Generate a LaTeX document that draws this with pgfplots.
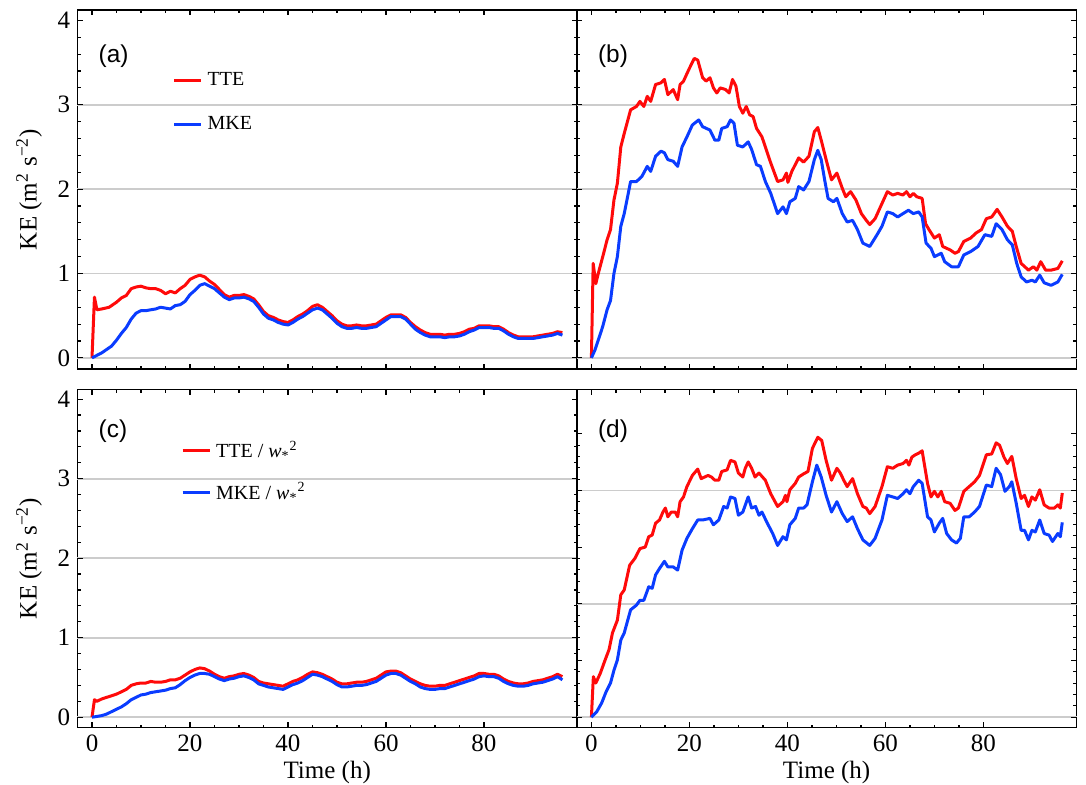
\documentclass[border=0pt]{standalone}
\usepackage{pgfplots}
\pgfplotsset{compat=1.18}
\usepackage{fontspec}
\setmainfont{Liberation Serif}
\newfontfamily\sansf{Liberation Sans}
\definecolor{ttered}{RGB}{255,10,10}
\definecolor{mkeblue}{RGB}{10,60,255}

\pgfplotstableread{
t v
0 0
0.5 0.72
1.0 0.57
2 0.58
3.5 0.60
5 0.66
6 0.71
7 0.74
8 0.82
9 0.84
10 0.85
11 0.83
12 0.82
13 0.82
14 0.80
15 0.76
16 0.79
17 0.77
18 0.82
19 0.86
20 0.93
21 0.96
22 0.98
23 0.96
24 0.91
25 0.87
26 0.81
27 0.75
28 0.72
29 0.74
30 0.74
31 0.75
32 0.73
33 0.70
34 0.63
35 0.55
36 0.50
37 0.48
38 0.45
39 0.43
40 0.42
41 0.45
42 0.49
43 0.52
44 0.56
45 0.61
46 0.63
47 0.60
48 0.55
49 0.50
50 0.44
51 0.40
52 0.38
53 0.38
54 0.39
55 0.38
56 0.38
57 0.39
58 0.40
59 0.44
60 0.48
61 0.51
62 0.51
63 0.51
64 0.48
65 0.42
66 0.37
67 0.33
68 0.30
69 0.28
70 0.28
71 0.28
72 0.27
73 0.28
74 0.28
75 0.29
76 0.31
77 0.34
78 0.35
79 0.38
80 0.38
81 0.38
82 0.37
83 0.37
84 0.34
85 0.30
86 0.27
87 0.25
88 0.25
89 0.25
90 0.25
91 0.26
92 0.27
93 0.28
94 0.29
95 0.31
96 0.30
}\tteA

\pgfplotstableread{
t v
0 0
1 0.03
2 0.06
3 0.10
4 0.14
5 0.21
6 0.29
7 0.36
8 0.46
9 0.53
10 0.56
11 0.56
12 0.57
13 0.58
14 0.60
15 0.59
16 0.58
17 0.62
18 0.63
19 0.67
20 0.75
21 0.80
22 0.86
23 0.88
24 0.85
25 0.82
26 0.77
27 0.72
28 0.69
29 0.71
30 0.71
31 0.72
32 0.70
33 0.67
34 0.60
35 0.52
36 0.47
37 0.45
38 0.42
39 0.40
40 0.39
41 0.42
42 0.46
43 0.49
44 0.53
45 0.57
46 0.59
47 0.57
48 0.52
49 0.47
50 0.41
51 0.37
52 0.35
53 0.35
54 0.36
55 0.35
56 0.35
57 0.36
58 0.37
59 0.41
60 0.45
61 0.49
62 0.49
63 0.49
64 0.46
65 0.40
66 0.34
67 0.30
68 0.27
69 0.25
70 0.25
71 0.25
72 0.24
73 0.25
74 0.25
75 0.26
76 0.28
77 0.31
78 0.33
79 0.36
80 0.36
81 0.36
82 0.35
83 0.35
84 0.32
85 0.28
86 0.25
87 0.23
88 0.23
89 0.23
90 0.23
91 0.24
92 0.25
93 0.26
94 0.27
95 0.29
96 0.27
}\mkeA

\pgfplotstableread{
t v
0 0
0.36 1.12
0.9 0.88
1.4 1.00
2.5 1.24
3.2 1.40
3.9 1.52
4.6 1.87
5.3 2.07
6.0 2.50
6.7 2.66
8.0 2.94
9.2 2.98
9.9 3.04
10.7 2.98
11.4 3.10
12.1 3.04
13.1 3.24
14.2 3.26
14.9 3.30
15.6 3.12
16.7 3.18
17.6 3.06
18.1 3.24
18.8 3.28
19.9 3.42
21.0 3.55
21.7 3.53
22.7 3.32
23.4 3.28
24.2 3.32
24.9 3.20
25.6 3.14
26.3 3.20
27.4 3.18
28.1 3.14
28.8 3.30
29.5 3.22
30.2 2.98
30.9 2.90
31.6 2.98
32.3 2.88
33.0 2.86
33.7 2.72
34.8 2.62
35.5 2.50
36.6 2.31
38.0 2.09
39.1 2.11
39.8 2.19
40.1 2.08
40.9 2.21
42.3 2.37
43.3 2.32
44.4 2.39
45.5 2.68
46.2 2.73
46.9 2.58
47.9 2.35
49.0 2.11
50.1 2.19
51.2 2.01
51.9 1.91
52.9 1.97
54.0 1.87
55.1 1.71
56.1 1.63
56.8 1.58
57.9 1.65
59.3 1.83
60.4 1.97
61.5 1.93
62.5 1.95
63.6 1.93
64.3 1.97
65.0 1.91
65.7 1.95
66.4 1.91
67.5 1.89
68.2 1.59
68.9 1.52
70.0 1.42
71.0 1.46
71.7 1.32
73.2 1.28
74.2 1.24
74.9 1.26
76.0 1.38
77.4 1.42
78.5 1.48
79.6 1.52
80.6 1.65
81.7 1.67
82.8 1.76
83.8 1.67
84.9 1.56
85.9 1.50
86.7 1.32
87.7 1.12
89.2 1.04
90.2 1.08
90.9 1.04
91.7 1.14
92.7 1.04
93.8 1.04
95.2 1.06
96.1 1.15
}\tteB

\pgfplotstableread{
t v
0 0
0.7 0.09
1.4 0.21
2.3 0.37
3.2 0.57
3.9 0.68
4.6 1.00
5.3 1.20
6.0 1.56
6.7 1.71
8.0 2.09
9.2 2.09
10.3 2.15
11.4 2.27
12.1 2.21
13.1 2.39
14.2 2.45
14.9 2.43
15.6 2.35
16.7 2.33
17.6 2.27
18.5 2.50
19.5 2.62
20.6 2.76
21.9 2.82
22.7 2.74
24.2 2.70
25.2 2.58
26.0 2.58
26.6 2.72
27.7 2.74
28.4 2.82
29.1 2.78
29.8 2.52
30.9 2.50
32.0 2.56
32.7 2.47
33.7 2.29
34.5 2.27
35.5 2.09
36.6 1.95
38.0 1.71
39.1 1.79
39.8 1.71
40.5 1.85
41.6 1.89
42.3 2.03
43.3 1.99
44.4 2.09
45.5 2.35
46.2 2.46
46.9 2.35
47.6 2.11
48.3 1.89
49.4 1.85
50.1 1.89
51.2 1.71
52.2 1.61
53.3 1.63
54.3 1.52
55.4 1.36
56.8 1.32
58.3 1.46
59.3 1.56
60.4 1.73
61.5 1.71
62.5 1.67
63.6 1.71
64.7 1.75
65.7 1.71
66.8 1.73
67.5 1.67
68.3 1.36
69.3 1.30
70.0 1.20
71.4 1.24
72.1 1.14
73.5 1.08
74.9 1.08
76.0 1.22
77.4 1.26
78.9 1.32
80.3 1.46
81.7 1.44
82.6 1.59
83.8 1.52
84.9 1.40
85.9 1.34
86.8 1.12
87.7 0.96
88.8 0.90
89.9 0.92
90.6 0.90
91.5 0.98
92.4 0.89
93.8 0.86
95.2 0.90
96.1 0.99
}\mkeB

\pgfplotstableread{
t v
0 0
0.5 0.22
1 0.20
2 0.23
3 0.25
4 0.27
5 0.29
6 0.32
7 0.35
8 0.40
9 0.42
10 0.43
11 0.43
12 0.45
13 0.44
14 0.44
15 0.45
16 0.47
17 0.47
18 0.49
19 0.53
20 0.57
21 0.60
22 0.62
23 0.61
24 0.58
25 0.54
26 0.51
27 0.49
28 0.51
29 0.52
30 0.54
31 0.55
32 0.53
33 0.50
34 0.45
35 0.43
36 0.42
37 0.41
38 0.40
39 0.39
40 0.42
41 0.45
42 0.47
43 0.50
44 0.54
45 0.57
46 0.56
47 0.54
48 0.51
49 0.48
50 0.44
51 0.42
52 0.42
53 0.43
54 0.44
55 0.44
56 0.45
57 0.47
58 0.49
59 0.53
60 0.57
61 0.58
62 0.58
63 0.56
64 0.52
65 0.48
66 0.45
67 0.42
68 0.40
69 0.39
70 0.39
71 0.40
72 0.40
73 0.42
74 0.44
75 0.46
76 0.48
77 0.50
78 0.52
79 0.55
80 0.55
81 0.54
82 0.54
83 0.52
84 0.48
85 0.45
86 0.43
87 0.42
88 0.42
89 0.43
90 0.45
91 0.46
92 0.47
93 0.49
94 0.51
95 0.54
96 0.51
}\tteC

\pgfplotstableread{
t v
0 0
1 0.01
2 0.02
3 0.04
4 0.07
5 0.10
6 0.13
7 0.17
8 0.22
9 0.25
10 0.28
11 0.29
12 0.31
13 0.32
14 0.33
15 0.34
16 0.36
17 0.37
18 0.41
19 0.46
20 0.50
21 0.53
22 0.55
23 0.55
24 0.54
25 0.51
26 0.48
27 0.46
28 0.48
29 0.49
30 0.51
31 0.52
32 0.50
33 0.47
34 0.42
35 0.40
36 0.38
37 0.37
38 0.36
39 0.35
40 0.38
41 0.41
42 0.43
43 0.46
44 0.50
45 0.54
46 0.53
47 0.51
48 0.48
49 0.45
50 0.41
51 0.38
52 0.38
53 0.39
54 0.40
55 0.40
56 0.41
57 0.43
58 0.45
59 0.49
60 0.53
61 0.55
62 0.55
63 0.53
64 0.49
65 0.45
66 0.42
67 0.38
68 0.36
69 0.35
70 0.35
71 0.36
72 0.36
73 0.38
74 0.40
75 0.42
76 0.44
77 0.46
78 0.48
79 0.51
80 0.52
81 0.51
82 0.51
83 0.49
84 0.45
85 0.42
86 0.40
87 0.39
88 0.39
89 0.40
90 0.42
91 0.43
92 0.44
93 0.46
94 0.48
95 0.51
96 0.47
}\mkeC

\pgfplotstableread{
t v
0 0
0.4 0.51
0.9 0.43
1.8 0.55
2.8 0.72
3.6 0.85
4.3 1.06
5.3 1.22
6.0 1.54
6.7 1.60
7.8 1.91
8.9 2.00
9.9 2.12
11.0 2.14
11.7 2.27
12.4 2.29
13.1 2.44
13.9 2.48
14.6 2.58
15.1 2.63
15.6 2.52
16.3 2.58
17.1 2.58
17.6 2.52
18.1 2.71
18.8 2.77
19.5 2.90
20.6 3.04
21.7 3.12
22.4 3.00
23.1 3.02
23.8 3.04
24.5 3.02
25.2 2.98
26.0 2.98
26.6 3.09
27.7 3.11
28.4 3.23
29.3 3.21
30.0 3.07
30.9 3.02
31.4 3.13
32.0 3.21
32.7 3.13
33.4 3.02
34.2 3.07
35.5 2.98
36.6 2.81
38.0 2.65
39.1 2.71
39.6 2.79
39.9 2.71
40.5 2.86
41.6 2.94
42.3 3.02
43.3 3.06
44.2 3.09
45.1 3.38
46.2 3.52
47.0 3.48
47.9 3.23
49.0 2.98
50.1 3.13
50.8 3.07
51.5 2.98
52.2 2.90
53.3 3.00
54.3 2.81
55.4 2.65
56.1 2.63
56.8 2.56
57.9 2.65
59.3 2.90
60.4 3.15
61.5 3.13
62.5 3.17
63.6 3.19
64.3 3.23
64.8 3.17
65.4 3.27
66.1 3.30
66.8 3.32
67.5 3.35
68.6 2.94
69.3 2.77
70.0 2.84
70.7 2.77
71.4 2.84
72.1 2.71
73.2 2.69
74.2 2.60
74.9 2.63
76.0 2.84
77.1 2.90
78.2 2.96
79.2 3.04
80.6 3.30
81.7 3.31
82.6 3.45
83.3 3.42
84.2 3.27
84.9 3.19
85.8 3.28
86.7 3.00
87.7 2.75
88.4 2.79
89.2 2.65
89.9 2.77
90.6 2.73
91.5 2.86
92.4 2.67
93.4 2.63
94.5 2.63
95.2 2.67
95.7 2.63
96.1 2.82
}\tteD

\pgfplotstableread{
t v
0 0
1.1 0.07
2.1 0.18
3.0 0.32
3.9 0.43
4.6 0.59
5.3 0.72
6.0 0.97
6.7 1.06
8.0 1.35
9.2 1.41
9.9 1.47
10.7 1.47
11.7 1.64
12.4 1.62
13.1 1.79
13.9 1.87
14.9 1.96
15.6 1.89
16.7 1.89
17.6 1.85
18.5 2.10
19.5 2.25
20.6 2.37
21.7 2.48
22.7 2.48
24.2 2.50
24.9 2.42
26.0 2.48
27.0 2.65
27.7 2.63
28.4 2.77
29.3 2.75
30.0 2.54
30.9 2.58
32.0 2.77
32.7 2.63
33.5 2.65
34.2 2.54
34.8 2.58
35.9 2.44
37.0 2.31
38.0 2.16
39.1 2.27
39.8 2.23
40.5 2.42
41.6 2.50
42.3 2.63
43.3 2.63
44.0 2.67
45.1 2.96
46.0 3.17
46.9 3.02
47.9 2.79
49.0 2.58
50.1 2.71
51.2 2.56
52.2 2.46
53.3 2.52
54.3 2.37
55.4 2.23
56.8 2.16
57.9 2.25
59.3 2.48
60.4 2.79
61.5 2.77
62.5 2.75
63.6 2.81
64.3 2.86
65.0 2.81
65.7 2.90
66.8 2.98
67.5 2.94
68.6 2.52
69.3 2.48
70.0 2.33
71.0 2.44
71.7 2.50
72.5 2.31
73.5 2.23
74.5 2.19
75.3 2.25
76.0 2.52
77.1 2.52
78.2 2.58
79.2 2.65
80.6 2.92
81.7 2.90
82.6 3.13
83.5 3.05
84.4 2.84
85.3 2.90
85.8 2.96
86.7 2.69
87.7 2.35
88.4 2.35
89.2 2.23
89.9 2.35
90.6 2.33
91.5 2.48
92.4 2.31
93.4 2.29
94.1 2.21
95.2 2.31
95.7 2.27
96.1 2.45
}\mkeD

\tikzset{plab/.style={anchor=west, inner sep=0pt, font=\sansf\fontsize{12.2}{14}\selectfont}}
\pgfplotsset{
  kebase/.style={
    scale only axis, width=249.9pt,
    xmin=-3, xmax=99, ymin=-0.132, ymax=4.123,
    xtick={0,20,...,80}, minor x tick num=3,
    tick align=inside, xtick pos=both, ytick pos=both,
    major tick length=2.7pt, minor tick length=1.6pt,
    axis line style={line width=0.7pt, black},
    every tick/.append style={line width=0.6pt, black},
    tick label style={font=\fontsize{12.5}{15}\selectfont},
    label style={font=\fontsize{12.5}{15}\selectfont},
    xlabel style={yshift=2pt},
    /pgf/number format/assume math mode=true,
    major grid style={line width=0.9pt, black!20},
    extra tick style={grid=major},
    legend cell align=left,
    legend image code/.code={\draw[##1, line width=1.5pt] (0pt,0pt) -- (13.5pt,0pt);},
  },
  stdy/.style={ytick={0,1,2,3,4}, minor y tick num=4,
    extra y ticks={0,1,2,3}, extra y tick labels={}},
  tteline/.style={ttered, line width=1.5pt, line join=round},
  mkeline/.style={mkeblue, line width=1.5pt, line join=round},
}

\begin{document}
\begin{tikzpicture}
\useasboundingbox (0pt,0pt) rectangle (543pt,-392pt);

% (a)
\begin{axis}[kebase, stdy, height=179.5pt,
  at={(38.65pt,-5pt)}, anchor=north west,
  xticklabels={},
  ylabel={KE (m\textsuperscript{2} s\textsuperscript{\char"2212 2})},
  ylabel style={yshift=1pt},
  legend style={at={(rel axis cs:0.19,0.828)}, anchor=north west, draw=none, fill=none,
    font=\fontsize{10}{12}\selectfont, row sep=14pt, inner sep=0pt,
    nodes={inner ysep=0pt, inner xsep=2.5pt}},
]
\addplot[tteline] table[x=t,y=v] {\tteA};
\addlegendentry{TTE}
\addplot[mkeline] table[x=t,y=v] {\mkeA};
\addlegendentry{MKE}
\node[plab] at (rel axis cs:0.042,0.872) {(a)};
\end{axis}

% (b)
\begin{axis}[kebase, stdy, height=179.5pt,
  at={(288.35pt,-5pt)}, anchor=north west,
  xticklabels={}, yticklabels={},
]
\addplot[tteline] table[x=t,y=v] {\tteB};
\addplot[mkeline] table[x=t,y=v] {\mkeB};
\node[plab] at (rel axis cs:0.042,0.872) {(b)};
\end{axis}

% (c)
\begin{axis}[kebase, stdy, height=169.2pt,
  at={(38.65pt,-194.65pt)}, anchor=north west,
  xlabel={Time (h)},
  ylabel={KE (m\textsuperscript{2} s\textsuperscript{\char"2212 2})},
  ylabel style={yshift=1pt},
  legend style={at={(rel axis cs:0.207,0.848)}, anchor=north west, draw=none, fill=none,
    font=\fontsize{10}{12}\selectfont, row sep=11pt, inner sep=0pt,
    nodes={inner ysep=0pt, inner xsep=2.5pt}},
]
\addplot[tteline] table[x=t,y=v] {\tteC};
\addlegendentry{TTE / \textit{w}\textsubscript{*}\textsuperscript{2}}
\addplot[mkeline] table[x=t,y=v] {\mkeC};
\addlegendentry{MKE / \textit{w}\textsubscript{*}\textsuperscript{2}}
\node[plab] at (rel axis cs:0.042,0.877) {(c)};
\end{axis}

% (d)
\begin{axis}[kebase, height=169.2pt,
  at={(288.35pt,-194.65pt)}, anchor=north west,
  xlabel={Time (h)}, yticklabels={},
  ytick={0,0.7126,1.4252,2.1378,2.8504,3.5630}, minor y tick num=4,
  extra y ticks={0,1.4252,2.8504}, extra y tick labels={},
]
\addplot[tteline] table[x=t,y=v] {\tteD};
\addplot[mkeline] table[x=t,y=v] {\mkeD};
\node[plab] at (rel axis cs:0.042,0.877) {(d)};
\end{axis}
\end{tikzpicture}
\end{document}
